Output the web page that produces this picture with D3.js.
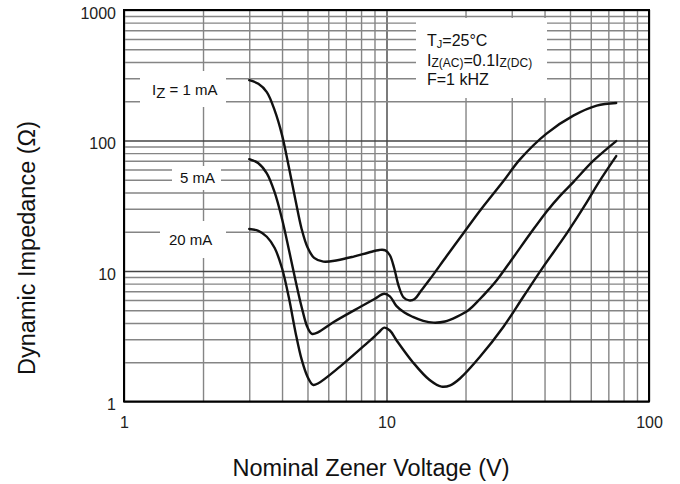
<!DOCTYPE html>
<html><head><meta charset="utf-8">
<script src="https://cdn.jsdelivr.net/npm/d3@7"></script>
<style>
body{margin:0;background:#fff}
svg{display:block}
text{font-family:Arial,"Liberation Sans",sans-serif}
</style>
</head><body>
<svg id="c" width="680" height="484"></svg>
<script>
// ---- data ----
const seriesNames = ["1 mA", "5 mA", "20 mA"];

const volts1mA = [3.0, 3.25, 3.5, 3.75, 4.0, 4.25, 4.5, 4.75, 5.0, 5.3, 5.75, 6.5, 7.5, 8.5, 9.4, 9.9, 10.3, 10.7, 11.1, 11.6, 12.2, 12.8, 13.5, 14.6, 16.9, 19.6, 22.7, 27.9, 32.3, 40.7, 51.5, 63.2, 75];
const ohms1mA  = [290, 272, 235, 170, 110, 62, 35, 21, 15.2, 12.6, 11.8, 12.1, 12.9, 13.8, 14.5, 14.4, 13.2, 10.5, 7.8, 6.3, 5.95, 6.1, 7.0, 8.6, 12.9, 19.4, 29, 49, 72, 113, 155, 185, 194];

const volts5mA = [3.0, 3.25, 3.5, 3.75, 4.0, 4.25, 4.5, 4.75, 5.0, 5.2, 5.5, 6.27, 7.93, 9.0, 9.8, 10.3, 10.9, 11.7, 12.6, 13.8, 15.1, 16.7, 18.5, 20.5, 22.7, 24.5, 26.3, 30.4, 35.2, 40.7, 46, 51.5, 61.4, 75];
const ohms5mA  = [72, 67, 56, 40, 25, 14.5, 8.5, 5.3, 3.7, 3.3, 3.4, 4.05, 5.3, 6.1, 6.7, 6.4, 5.4, 4.8, 4.45, 4.15, 4.02, 4.1, 4.45, 5.0, 6.1, 7.2, 8.5, 12.7, 19.2, 28.5, 38, 48, 70, 99];

const volts20mA = [3.0, 3.25, 3.5, 3.75, 4.0, 4.25, 4.5, 4.75, 5.0, 5.25, 5.5, 6.65, 8.41, 9.3, 9.8, 10.3, 10.9, 12.6, 14.6, 16.2, 17.5, 19.05, 22.7, 27.9, 33.2, 39.6, 48.6, 57.9, 64, 75];
const ohms20mA  = [21, 20.3, 18.3, 15, 10.5, 6.2, 3.4, 2.1, 1.55, 1.34, 1.38, 1.85, 2.79, 3.35, 3.68, 3.5, 2.96, 2.0, 1.46, 1.3, 1.33, 1.5, 2.2, 3.74, 6.35, 10.8, 19.4, 33.5, 47, 76];

const xTickValues = [1, 10, 100];
const xTickLabels = ["1", "10", "100"];
const yTickValues = [1, 10, 100, 1000];
const yTickLabels = ["1", "10", "100", "1000"];

const xTitle = "Nominal Zener Voltage (V)";
const yTitle = "Dynamic Impedance (Ω)";

// ---- drawing ----
const svg = d3.select("#c");
const L = 124, R = 649, T = 10, B = 401.5;
const x = d3.scaleLog().domain([1, 100]).range([L, R]);
const y = d3.scaleLog().domain([1, 1000]).range([B, T]);

svg.append("rect").attr("width", 680).attr("height", 484).attr("fill", "#fff");

// grid via axes
const gx = svg.append("g").attr("transform", `translate(0,${B})`)
  .call(d3.axisBottom(x).tickValues(x.ticks()).tickSize(-(B - T)).tickFormat(""));
const gy = svg.append("g").attr("transform", `translate(${L},0)`)
  .call(d3.axisLeft(y).tickValues(y.ticks()).tickSize(-(R - L)).tickFormat(""));
[gx, gy].forEach(g => {
  g.select(".domain").remove();
  g.selectAll(".tick line")
    .attr("stroke", d => (Math.abs(Math.log10(d) - Math.round(Math.log10(d))) < 1e-9) ? "#444" : "#858585")
    .attr("stroke-width", 1.4);
});

// white boxes behind labels (interrupt the grid)
const boxes = [
  [140, 71, 86, 36],
  [172, 166, 49, 24],
  [160, 221, 66, 37],
  [416, 18, 131, 80]
];
svg.append("g").selectAll("rect").data(boxes).join("rect")
  .attr("x", d => d[0]).attr("y", d => d[1]).attr("width", d => d[2]).attr("height", d => d[3])
  .attr("fill", "#fff");

// curves
const series = [
  d3.zip(volts1mA, ohms1mA),
  d3.zip(volts5mA, ohms5mA),
  d3.zip(volts20mA, ohms20mA)
];
const line = d3.line().x(d => x(d[0])).y(d => y(d[1])).curve(d3.curveCatmullRom.alpha(0.5));
svg.append("g").selectAll("path").data(series).join("path")
  .attr("d", line).attr("fill", "none").attr("stroke", "#111")
  .attr("stroke-width", 2.4).attr("stroke-linejoin", "round").attr("stroke-linecap", "round");

// frame
svg.append("rect").attr("x", L).attr("y", T).attr("width", R - L).attr("height", B - T)
  .attr("fill", "none").attr("stroke", "#000").attr("stroke-width", 2);

// series labels
const lab1 = svg.append("text").attr("x", 152).attr("y", 95).attr("font-size", 15).attr("fill", "#111");
lab1.append("tspan").text("I");
lab1.append("tspan").attr("dy", 3).text("Z");
lab1.append("tspan").attr("dy", -3).text(" = " + seriesNames[0]);
svg.append("text").attr("x", 180).attr("y", 182.5).attr("font-size", 15).attr("fill", "#111").text(seriesNames[1]);
svg.append("text").attr("x", 169).attr("y", 244.5).attr("font-size", 15).attr("fill", "#111").text(seriesNames[2]);

// conditions box
const c1 = svg.append("text").attr("x", 427).attr("y", 46).attr("font-size", 16).attr("fill", "#111");
c1.append("tspan").text("T");
c1.append("tspan").attr("font-size", 11).attr("dy", 2).text("J");
c1.append("tspan").attr("dy", -2).text("=25°C");
const c2 = svg.append("text").attr("x", 427).attr("y", 65.5).attr("font-size", 16).attr("fill", "#111");
c2.append("tspan").text("I");
c2.append("tspan").attr("font-size", 12).attr("dy", 1).text("Z(AC)");
c2.append("tspan").attr("dy", -1).text("=0.1I");
c2.append("tspan").attr("font-size", 12).attr("dy", 1).text("Z(DC)");
svg.append("text").attr("x", 427).attr("y", 85).attr("font-size", 16).attr("fill", "#111").text("F=1 kHZ");

// tick labels
const ax = svg.append("g").attr("transform", `translate(0,${B})`)
  .call(d3.axisBottom(x).tickValues(xTickValues).tickFormat((d, i) => xTickLabels[i]).tickSize(0).tickPadding(15));
const ay = svg.append("g").attr("transform", `translate(${L},0)`)
  .call(d3.axisLeft(y).tickValues(yTickValues).tickFormat((d, i) => yTickLabels[i]).tickSize(0).tickPadding(8));
[ax, ay].forEach(g => {
  g.select(".domain").remove();
  g.selectAll("text").attr("font-size", 16).attr("fill", "#222").attr("font-family", "Arial, 'Liberation Sans', sans-serif");
});
ay.selectAll("text").attr("dy", "0.5em");

// axis titles
svg.append("text").attr("x", 371).attr("y", 476).attr("text-anchor", "middle")
  .attr("font-size", 23.5).attr("fill", "#111").text(xTitle);
svg.append("text").attr("transform", "translate(35,248) rotate(-90)").attr("text-anchor", "middle")
  .attr("font-size", 23.5).attr("fill", "#111").text(yTitle);
</script>
</body></html>
